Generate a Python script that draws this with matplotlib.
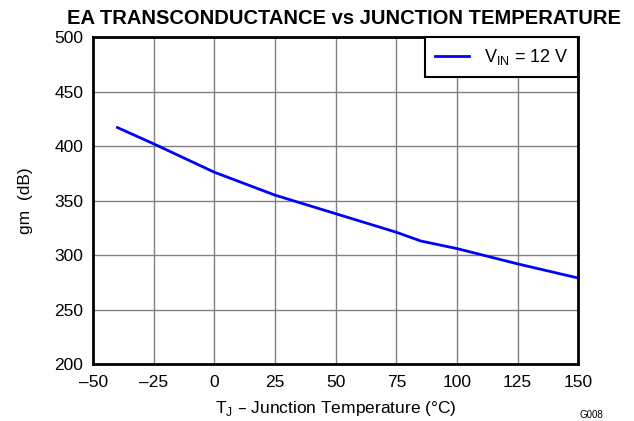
import matplotlib
matplotlib.use("Agg")
import matplotlib.pyplot as plt

plt.rcParams['font.family'] = ['Liberation Sans', 'DejaVu Sans']

temp = [-40, -25, 0, 25, 50, 75, 85, 100, 125, 150]
gm = [417, 402, 376, 355, 338, 321, 313, 306, 292, 279]

fig = plt.figure(figsize=(6.34, 4.21), dpi=100)
ax = fig.add_axes([0.147, 0.135, 0.765, 0.777])

ax.plot(temp, gm, color="#0000ff", lw=2, label=r"V$_{\mathregular{IN}}$ = 12 V")

ax.set_xlim(-50, 150)
ax.set_ylim(200, 500)
ax.set_xticks(range(-50, 151, 25))
ax.set_xticklabels([str(t).replace("-", "\u2013") for t in range(-50, 151, 25)])
ax.set_yticks(range(200, 501, 50))
ax.grid(True, color="#808080", lw=1)
ax.tick_params(length=0, labelsize=12.5)
ax.tick_params(axis="x", pad=8)
ax.tick_params(axis="y", pad=7)
for lbl in ax.get_yticklabels():
    lbl.set_va("center_baseline")
for s in ax.spines.values():
    s.set_linewidth(2)
    s.set_color("black")

ax.set_xlabel("T$_{\\mathregular{J}}$ \u2013 Junction Temperature (\u00b0C)", fontsize=12.5, labelpad=6)
ax.set_ylabel("gm  (dB)", fontsize=12.5)
ax.yaxis.set_label_coords(-0.125, 0.5)
fig.text(0.543, 0.943, "EA TRANSCONDUCTANCE vs JUNCTION TEMPERATURE", fontsize=14.5,
         fontweight="bold", ha="center", va="baseline")

leg = ax.legend(loc="upper right", fontsize=13, fancybox=False, framealpha=1,
                borderaxespad=0, borderpad=0.55, handlelength=1.9, handletextpad=0.8,
                edgecolor="black")
leg.get_frame().set_linewidth(1.5)

fig.text(0.951, 0.008, "G008", fontsize=7, ha="right", va="baseline")

fig.savefig("out.png", dpi=100)
